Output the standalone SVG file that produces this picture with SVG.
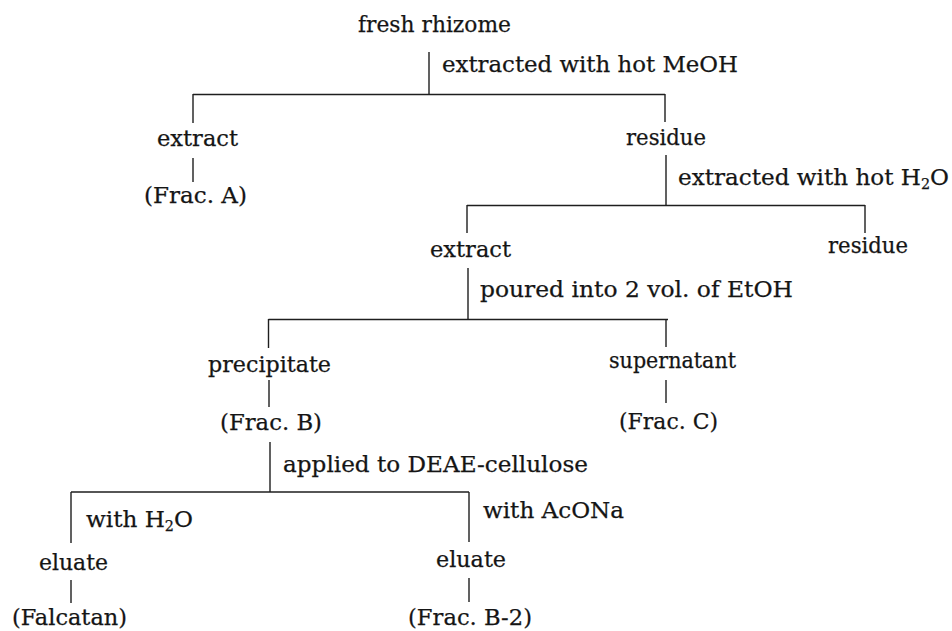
<svg xmlns="http://www.w3.org/2000/svg" width="952" height="631" viewBox="0 0 952 631">
<style>
text{font-family:"DejaVu Serif","Liberation Serif",serif;font-size:22.5px;fill:#151515;stroke:#151515;stroke-width:0.25}
.sub{font-size:14px}
#connectors line{stroke:#1e1e1e;stroke-width:1.4;fill:none}
</style>
<rect width="952" height="631" fill="#ffffff"/>
<g id="connectors">
<line x1="429" y1="52" x2="429" y2="94"/>
<line x1="193" y1="94.5" x2="665" y2="94.5"/>
<line x1="193" y1="94" x2="193" y2="123"/>
<line x1="665" y1="94" x2="665" y2="122"/>
<line x1="193" y1="158" x2="193" y2="182"/>
<line x1="666" y1="155" x2="666" y2="206"/>
<line x1="467" y1="205.5" x2="865" y2="205.5"/>
<line x1="467" y1="205" x2="467" y2="233"/>
<line x1="865" y1="205" x2="865" y2="233"/>
<line x1="468" y1="268" x2="468" y2="319"/>
<line x1="268.5" y1="319.5" x2="668" y2="319.5"/>
<line x1="268.5" y1="319" x2="268.5" y2="348"/>
<line x1="666" y1="320" x2="666" y2="347"/>
<line x1="269" y1="380" x2="269" y2="407"/>
<line x1="666" y1="380" x2="666" y2="403"/>
<line x1="270" y1="442" x2="270" y2="492"/>
<line x1="71" y1="492" x2="469" y2="492"/>
<line x1="71" y1="492" x2="71" y2="543"/>
<line x1="469" y1="492" x2="469" y2="542"/>
<line x1="71" y1="580" x2="71" y2="603"/>
<line x1="469" y1="578" x2="469" y2="602"/>
</g>
<g id="fresh-rhizome"><text x="358" y="32" textLength="153" lengthAdjust="spacingAndGlyphs">fresh rhizome</text></g>
<g id="label-meoh"><text x="442" y="72" textLength="296" lengthAdjust="spacingAndGlyphs">extracted with hot MeOH</text></g>
<g id="extract-1"><text x="157" y="146" textLength="81" lengthAdjust="spacingAndGlyphs">extract</text></g>
<g id="frac-a"><text x="144" y="203" textLength="103" lengthAdjust="spacingAndGlyphs">(Frac. A)</text></g>
<g id="residue-1"><text x="626" y="145" textLength="80" lengthAdjust="spacingAndGlyphs">residue</text></g>
<g id="label-h2o"><text x="678" y="185" textLength="271" lengthAdjust="spacingAndGlyphs">extracted with hot H<tspan class="sub" dy="4">2</tspan><tspan dy="-4">O</tspan></text></g>
<g id="extract-2"><text x="430" y="257" textLength="81" lengthAdjust="spacingAndGlyphs">extract</text></g>
<g id="residue-2"><text x="828" y="253" textLength="80" lengthAdjust="spacingAndGlyphs">residue</text></g>
<g id="label-etoh"><text x="480" y="297" textLength="313" lengthAdjust="spacingAndGlyphs">poured into 2 vol. of EtOH</text></g>
<g id="precipitate"><text x="208" y="372" textLength="123" lengthAdjust="spacingAndGlyphs">precipitate</text></g>
<g id="supernatant"><text x="609" y="368" textLength="127" lengthAdjust="spacingAndGlyphs">supernatant</text></g>
<g id="frac-b"><text x="220" y="430" textLength="102" lengthAdjust="spacingAndGlyphs">(Frac. B)</text></g>
<g id="frac-c"><text x="619" y="429" textLength="99" lengthAdjust="spacingAndGlyphs">(Frac. C)</text></g>
<g id="label-deae"><text x="283" y="472" textLength="305" lengthAdjust="spacingAndGlyphs">applied to DEAE-cellulose</text></g>
<g id="label-with-h2o"><text x="86" y="527" textLength="107" lengthAdjust="spacingAndGlyphs">with H<tspan class="sub" dy="4">2</tspan><tspan dy="-4">O</tspan></text></g>
<g id="label-acona"><text x="483" y="518" textLength="141" lengthAdjust="spacingAndGlyphs">with AcONa</text></g>
<g id="eluate-1"><text x="39" y="570" textLength="69" lengthAdjust="spacingAndGlyphs">eluate</text></g>
<g id="eluate-2"><text x="436" y="567" textLength="70" lengthAdjust="spacingAndGlyphs">eluate</text></g>
<g id="falcatan"><text x="12" y="625" textLength="115" lengthAdjust="spacingAndGlyphs">(Falcatan)</text></g>
<g id="frac-b2"><text x="408" y="625" textLength="124" lengthAdjust="spacingAndGlyphs">(Frac. B-2)</text></g>
</svg>
